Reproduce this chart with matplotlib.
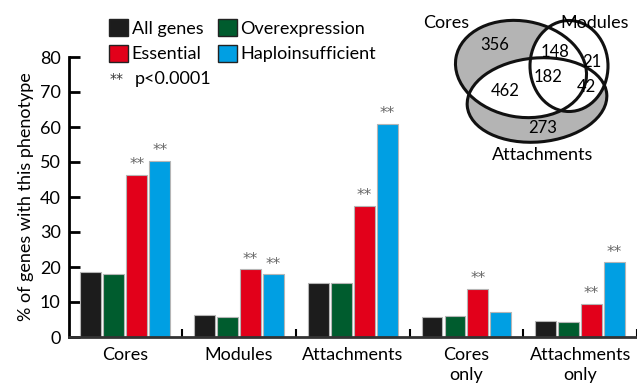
import numpy as np
import matplotlib
matplotlib.use("Agg")
from matplotlib import pyplot as plt
from matplotlib.patches import Ellipse, Patch

plt.rcParams['font.family'] = ['Lato', 'DejaVu Sans']

# dados
grupos = ["Cores", "Modules", "Attachments", "Cores\nonly", "Attachments\nonly"]
series = ["All genes", "Overexpression", "Essential", "Haploinsufficient"]
all_genes = [18.5, 6.2, 15.4, 5.8, 4.5]
overexp = [17.9, 5.8, 15.4, 6.0, 4.3]
essential = [46.2, 19.3, 37.4, 13.8, 9.4]
haplo = [50.2, 17.9, 61.0, 7.2, 21.3]
# quais barras levam ** (p<0.0001)
sig_essential = [1, 1, 1, 1, 1]
sig_haplo = [1, 1, 1, 0, 1]
cores = ["#1c1c1c", "#005c2e", "#e2001a", "#009fe3"]

venn_nomes = ["Cores", "Modules", "Attachments"]
venn_num = [356, 148, 21, 182, 462, 42, 273]

fig = plt.figure(figsize=(6.37, 3.87), dpi=100)
ax = fig.add_axes([69/637, 50/387, 1 - 69/637, 280/387])

x = np.arange(len(grupos))
w = 0.184
passo = 0.202
dados = [all_genes, overexp, essential, haplo]
for k in range(4):
    xs = x + (k - 1.5)*passo
    ax.bar(xs, dados[k], w, color=cores[k], edgecolor="#b5b5b5", linewidth=0.8, zorder=2)
    if k == 2 or k == 3:
        sig = sig_essential if k == 2 else sig_haplo
        for i in range(len(grupos)):
            if sig[i]:
                ax.text(xs[i], dados[k][i] + 0.8, "**", ha="center", va="bottom",
                        fontsize=11, color="#666666", family="DejaVu Sans")

ax.set_xlim(-0.496, 4.49)
ax.set_ylim(0, 80)
ax.set_yticks(np.arange(0, 81, 10))
ax.tick_params(axis="y", direction="in", length=8, width=2, labelsize=13, pad=6)
ax.set_xticks(x)
ax.set_xticklabels(grupos, fontsize=13, linespacing=1.3)
ax.tick_params(axis="x", which="major", length=0, pad=7)
ax.set_xticks(x + 0.5, minor=True)
ax.tick_params(axis="x", which="minor", direction="in", length=6, width=1.5)
for s in ["top", "right"]:
    ax.spines[s].set_visible(False)
ax.spines["left"].set_linewidth(2)
ax.spines["bottom"].set_linewidth(2)
ax.spines["bottom"].set_color("#333333")
ax.set_ylabel("% of genes with this phenotype", fontsize=13, labelpad=4)

handles = [Patch(facecolor=cores[k], edgecolor="#222222", linewidth=1) for k in [0, 2, 1, 3]]
labels = [series[k] for k in [0, 2, 1, 3]]
fig.legend(handles, labels, ncol=2, loc="upper left", bbox_to_anchor=(102/637, 1 - 12/387),
           frameon=False, fontsize=13, handlelength=1.05, handleheight=1.05,
           handletextpad=0.2, columnspacing=0.8, labelspacing=0.45, borderaxespad=0)
fig.text(110/637, 1 - 79/387, "**", fontsize=10, va="center", ha="left",
         family="DejaVu Sans", color="#333333")
fig.text(135/637, 1 - 79/387, "p<0.0001", fontsize=13, va="center", ha="left")

# diagrama de Venn em coordenadas de pixel
vx = fig.add_axes([0, 0, 1, 1], facecolor="none")
vx.set_xlim(0, 637)
vx.set_ylim(387, 0)
vx.axis("off")
ec = dict(xy=(521, 69), width=132, height=96, angle=10)
ea = dict(xy=(537, 100), width=140, height=84, angle=-5)
em = dict(xy=(569, 66), width=78, height=91, angle=0)
e_cores = Ellipse(**ec, facecolor="#b4b4b4", edgecolor="none")
vx.add_patch(e_cores)
vx.add_patch(Ellipse(**ea, facecolor="#b4b4b4", edgecolor="none"))
e_int = Ellipse(**ea, facecolor="white", edgecolor="none")
vx.add_patch(e_int)
e_int.set_clip_path(e_cores)
vx.add_patch(Ellipse(**em, facecolor="white", edgecolor="none"))
for d in [ec, ea, em]:
    vx.add_patch(Ellipse(**d, facecolor="none", edgecolor="#111111", linewidth=2.2))

vx.text(446, 23, venn_nomes[0], fontsize=13, ha="center", va="center")
vx.text(595, 23, venn_nomes[1], fontsize=13, ha="center", va="center")
vx.text(543, 155, venn_nomes[2], fontsize=13, ha="center", va="center")
pos = [(495, 45), (555, 52), (592, 62), (548, 77), (505, 91), (586, 87), (543, 128)]
for n, (px, py) in zip(venn_num, pos):
    vx.text(px, py, str(n), fontsize=12, ha="center", va="center")

fig.savefig("out.png", dpi=100)
